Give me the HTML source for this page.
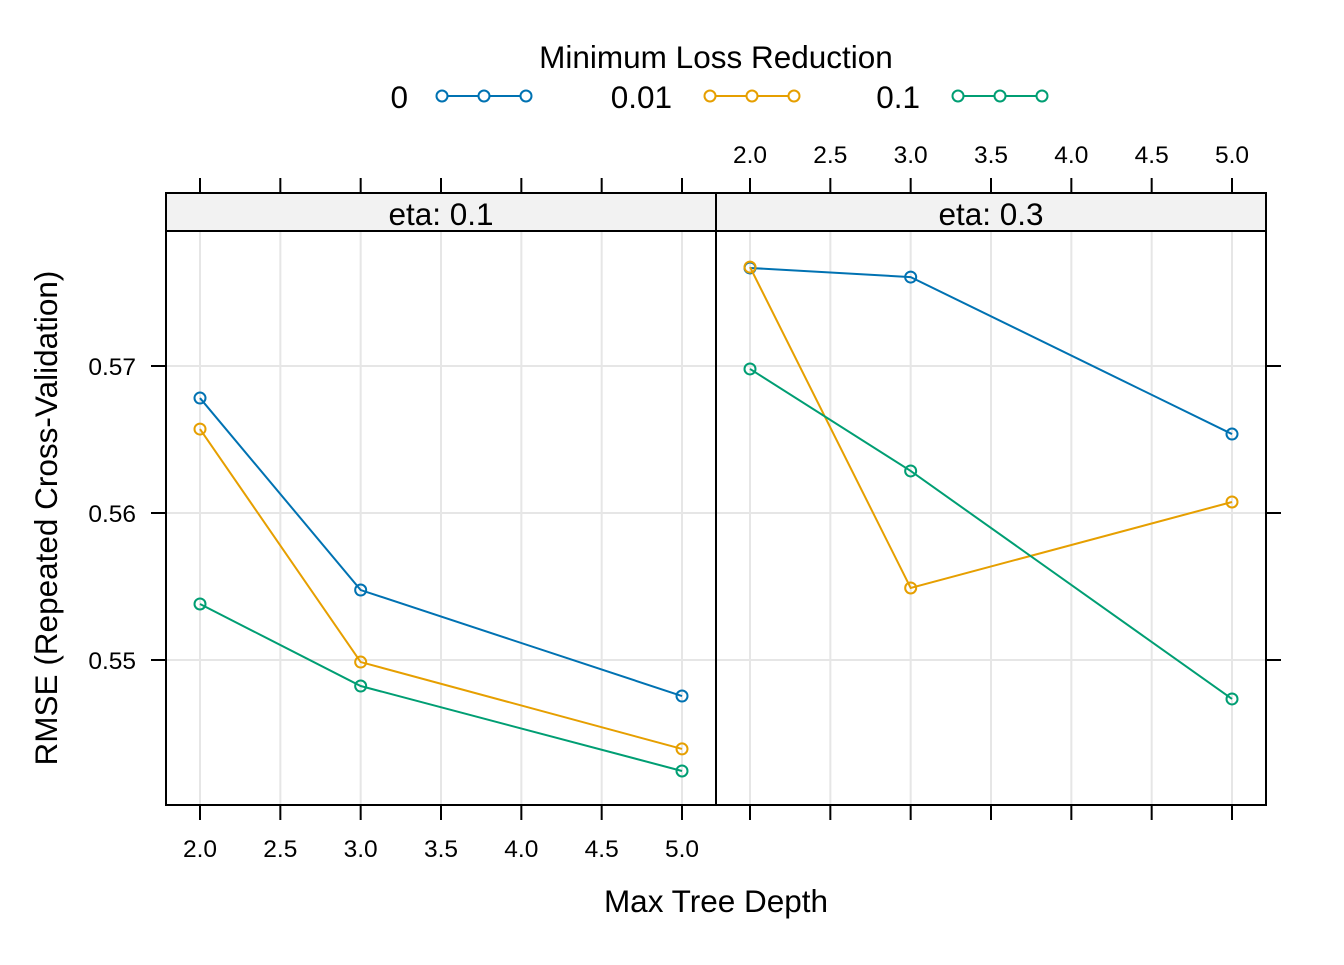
<!DOCTYPE html>
<html><head><meta charset="utf-8"><style>
body{margin:0;background:#fff}
svg text{font-family:"Liberation Sans",Arial,sans-serif}
</style></head><body>
<svg id="chart" width="1344" height="960" xmlns="http://www.w3.org/2000/svg">
<g id="root"></g>
</svg>
<script>
const depths=[2,3,5];
const panelNames=["eta: 0.1","eta: 0.3"];
const seriesNames=["0","0.01","0.1"];
const colors=["#0072B2","#E69F00","#009E73"];
const eta01_g0=[0.56782,0.55476,0.54755];
const eta01_g001=[0.56571,0.54986,0.54395];
const eta01_g01=[0.55381,0.54823,0.54245];
const eta03_g0=[0.57667,0.57605,0.56537];
const eta03_g001=[0.57673,0.5549,0.56075];
const eta03_g01=[0.5698,0.56286,0.54735];
const xTicks=[2,2.5,3,3.5,4,4.5,5];
const xTickLabels=["2.0","2.5","3.0","3.5","4.0","4.5","5.0"];
const yTicks=[0.55,0.56,0.57];
const yTickLabels=["0.55","0.56","0.57"];
const panelData=[[eta01_g0,eta01_g001,eta01_g01],[eta03_g0,eta03_g001,eta03_g01]];

const NS="http://www.w3.org/2000/svg";
const root=document.getElementById('root');
function mk(tag,attrs,parent){const e=document.createElementNS(NS,tag);for(const k in attrs)e.setAttribute(k,attrs[k]);(parent||root).appendChild(e);return e;}
const panelX0=[166,716], PW=550, plotTop=231, plotBottom=805, stripTop=193;
function xs(p,v){return panelX0[p]+34+(v-2)*160.67;}
function ys(v){return 366+(0.57-v)*14700;}

for(let p=0;p<2;p++){
  const g=mk('g',{});
  
  
  const x0=panelX0[p];
  xTicks.forEach(t=>{const l=mk('line',{x1:xs(p,t),x2:xs(p,t),y1:plotTop,y2:plotBottom,stroke:'#e6e6e6','stroke-width':2},g);
    });
  yTicks.forEach(t=>{const l=mk('line',{x1:x0,x2:x0+PW,y1:ys(t),y2:ys(t),stroke:'#e6e6e6','stroke-width':2},g);
    });
  const s=mk('rect',{x:x0,y:stripTop,width:PW,height:plotTop-stripTop,fill:'#f2f2f2',stroke:'#000','stroke-width':2},g);
  
  const st=mk('text',{x:x0+PW/2,y:225,'text-anchor':'middle','font-size':31.5},g);st.textContent=panelNames[p];
  
  panelData[p].forEach((vals,si)=>{
    const pts=vals.map((v,i)=>xs(p,depths[i])+','+ys(v)).join(' ');
    const pl=mk('polyline',{points:pts,fill:'none',stroke:colors[si],'stroke-width':2},g);
    
    vals.forEach((v,i)=>{const c=mk('circle',{cx:xs(p,depths[i]),cy:ys(v),r:5.5,fill:'none',stroke:colors[si],'stroke-width':2},g);
      });
  });
  const fr=mk('rect',{x:x0,y:plotTop,width:PW,height:plotBottom-plotTop,fill:'none',stroke:'#000','stroke-width':2},g);
  
  xTicks.forEach((t,i)=>{
    mk('line',{x1:xs(p,t),x2:xs(p,t),y1:stripTop-15,y2:stripTop,stroke:'#000','stroke-width':2},g);
    mk('line',{x1:xs(p,t),x2:xs(p,t),y1:plotBottom,y2:plotBottom+15,stroke:'#000','stroke-width':2},g);
    const tl=mk('text',{x:xs(p,t),y:p?163:857,'text-anchor':'middle','font-size':24.5},g);tl.textContent=xTickLabels[i];
    
  });
}
yTicks.forEach((t,i)=>{
  mk('line',{x1:151,x2:166,y1:ys(t),y2:ys(t),stroke:'#000','stroke-width':2});
  mk('line',{x1:1266,x2:1281,y1:ys(t),y2:ys(t),stroke:'#000','stroke-width':2});
  const tl=mk('text',{x:136,y:ys(t)+9,'text-anchor':'end','font-size':24.5});tl.textContent=yTickLabels[i];
  
});
let t=mk('text',{x:716,y:912,'text-anchor':'middle','font-size':31.5});t.textContent='Max Tree Depth';

t=mk('text',{x:0,y:0,'text-anchor':'middle','font-size':31.5,transform:'translate(57,518) rotate(-90)'});t.textContent='RMSE (Repeated Cross-Validation)';

t=mk('text',{x:716,y:68,'text-anchor':'middle','font-size':31.5});t.textContent='Minimum Loss Reduction';

const legLabelX=[408,672,920], legLineX=[436,704,952];
seriesNames.forEach((n,i)=>{
  const g=mk('g',{});
  
  
  const tl=mk('text',{x:legLabelX[i],y:108,'text-anchor':'end','font-size':31.5},g);tl.textContent=n;
  mk('line',{x1:legLineX[i],x2:legLineX[i]+96,y1:96,y2:96,stroke:colors[i],'stroke-width':2},g);
  [6,48,90].forEach(o=>mk('circle',{cx:legLineX[i]+o,cy:96,r:5.5,fill:'#fff',stroke:colors[i],'stroke-width':2},g));
});
</script>
</body></html>
